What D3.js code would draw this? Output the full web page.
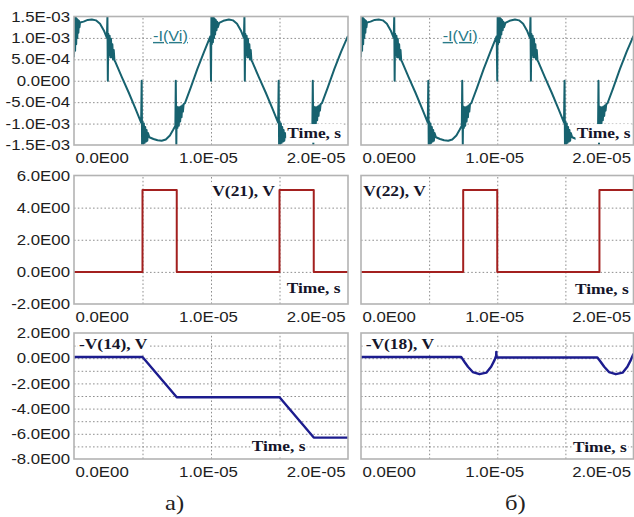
<!DOCTYPE html>
<html><head><meta charset="utf-8">
<script src="https://cdn.jsdelivr.net/npm/d3@7"></script>
<style>body{margin:0;background:#fff}svg{display:block}</style></head>
<body>
<svg id="c" width="634" height="517"></svg>
<script>
// ---- axis ticks / labels ----
const timeTicks = [0, 10, 20];                 // µs
const timeTickLabels = ["0.0E00", "1.0E-05", "2.0E-05"];
const timeGrid = [5, 10, 15];

const currentTicks = [1.5, 1.0, 0.5, 0, -0.5, -1.0, -1.5];   // mA
const currentTickLabels = ["1.5E-03", "1.0E-03", "5.0E-04", "0.0E00", "-5.0E-04", "-1.0E-03", "-1.5E-03"];
const currentGrid = [1.0, 0.5, 0, -0.5, -1.0];

const gateTicks = [6, 4, 2, 0, -2];
const gateTickLabels = ["6.0E00", "4.0E00", "2.0E00", "0.0E00", "-2.0E00"];
const gateGrid = [4, 2, 0];

const outTicks = [2, 0, -2, -4, -6, -8];
const outTickLabels = ["2.0E00", "0.0E00", "-2.0E00", "-4.0E00", "-6.0E00", "-8.0E00"];
const outGrid = [1, 0, -1, -2, -3, -4, -5, -6, -7];

// ---- series: [time µs, value] ----
const currentIVi = [
 [0.00,0.55],[0.04,1.50],[0.08,0.70],[0.12,1.48],[0.16,0.85],[0.20,1.45],[0.24,1.00],[0.28,1.42],[0.32,1.12],[0.36,1.40],[0.40,1.25],[0.44,1.36],
 [0.70,1.38],[1.00,1.42],[1.30,1.43],[1.60,1.41],[1.90,1.33],[2.20,1.16],[2.40,1.00],
 [2.44,1.50],[2.47,0.00],[2.50,1.10],[2.55,0.60],[2.60,1.05],[2.65,0.55],[2.70,0.98],[2.75,0.55],[2.80,0.85],[2.85,0.50],[2.90,0.72],[2.95,0.48],
 [3.00,0.45],[3.50,0.08],[4.00,-0.28],[4.50,-0.66],[4.90,-0.98],
 [4.94,0.00],[4.97,-1.50],[5.00,-0.95],[5.05,-1.48],[5.10,-1.00],[5.15,-1.45],[5.20,-1.08],[5.25,-1.42],[5.30,-1.15],[5.35,-1.40],[5.40,-1.22],
 [5.50,-1.32],[5.80,-1.36],[6.10,-1.39],[6.40,-1.40],[6.70,-1.37],[7.00,-1.28],[7.25,-1.14],[7.40,-1.05],
 [7.43,0.00],[7.47,-1.50],[7.50,-0.60],[7.55,-1.10],[7.60,-0.62],[7.65,-1.05],[7.70,-0.62],[7.75,-0.95],[7.80,-0.60],[7.85,-0.85],[7.90,-0.58],[7.95,-0.72],[8.00,-0.55],
 [8.10,-0.52],[8.50,-0.18],[9.00,0.27],[9.50,0.68],[9.96,1.04],
 [10.00,0.00],[10.03,1.50],[10.06,0.85],[10.10,1.50],[10.14,0.90],[10.18,1.48],[10.22,1.00],[10.26,1.45],[10.30,1.08],[10.35,1.42],[10.40,1.18],[10.45,1.38],[10.50,1.25],
 [10.60,1.35],[10.90,1.40],[11.30,1.43],[11.60,1.41],[11.90,1.33],[12.20,1.16],[12.40,1.00],
 [12.44,1.50],[12.47,0.00],[12.50,1.10],[12.55,0.60],[12.60,1.05],[12.65,0.55],[12.70,0.98],[12.75,0.55],[12.80,0.85],[12.85,0.50],[12.90,0.72],[12.95,0.48],
 [13.00,0.45],[13.50,0.08],[14.00,-0.28],[14.50,-0.66],[14.90,-0.98],
 [14.94,0.00],[14.97,-1.50],[15.00,-0.95],[15.05,-1.48],[15.10,-1.00],[15.15,-1.45],[15.20,-1.08],[15.25,-1.42],[15.30,-1.15],[15.35,-1.40],[15.40,-1.22],
 [15.50,-1.32],[15.80,-1.36],[16.10,-1.39],[16.40,-1.40],[16.70,-1.37],[17.00,-1.28],[17.25,-1.14],[17.40,-1.05],
 [17.43,0.00],[17.47,-1.50],[17.50,-0.60],[17.55,-1.05],[17.60,-0.62],[17.65,-1.00],[17.70,-0.62],[17.75,-0.92],[17.80,-0.60],[17.85,-0.82],[17.90,-0.58],[17.95,-0.70],[18.00,-0.55],
 [18.10,-0.52],[18.50,-0.18],[19.00,0.27],[19.50,0.68],[20.00,1.05]
];

const gateV21 = [[0,0],[5,0],[5,5.1],[7.5,5.1],[7.5,0],[15,0],[15,5.1],[17.5,5.1],[17.5,0],[20,0]];
const gateV22 = [[0,0],[7.5,0],[7.5,5.1],[10,5.1],[10,0],[17.5,0],[17.5,5.1],[20,5.1]];

const outV14 = [[0,0.1],[5,0.1],[7.5,-3.1],[15,-3.1],[17.5,-6.3],[20,-6.3]];
const outV18 = [[0,0.1],[7.35,0.1],[7.6,-0.3],[7.85,-0.68],[8.2,-1.1],[8.7,-1.27],[9.2,-1.15],[9.55,-0.68],[9.8,-0.15],[9.92,0.2],[9.93,0.5],[9.95,0.05],
 [17.35,0.05],[17.6,-0.3],[17.85,-0.68],[18.2,-1.1],[18.7,-1.27],[19.2,-1.15],[19.55,-0.68],[19.8,-0.15],[20,0.35]];

// ---- layout ----
const svg = d3.select("#c");
const SX = 1.16;
const cols = [{x0:74, x1:348}, {x0:361, x1:633.5}];
const rows = [{y0:16.5, y1:145}, {y0:175.5, y1:304}, {y0:333, y1:459}];
const TEAL = "#17626f", RED = "#a3201f", BLUE = "#1c1c8e";
const LABEL_COL = "#15152a";
const TICK_COL = "#1e1e1e";

let clipId = 0;
function label(g, txt, x, y, opts) {
  const grp = g.append("g").attr("transform", `translate(${x},${y}) scale(${SX},1)`);
  const bg = grp.append("rect").attr("fill", "#fff");
  const t = grp.append("text").text(txt)
    .attr("font-family", opts.family).attr("font-size", opts.size)
    .attr("font-weight", opts.weight || "normal").attr("fill", opts.color);
  if (opts.underline) t.attr("text-decoration", "underline");
  const b = t.node().getBBox();
  bg.attr("x", b.x - 1).attr("y", b.y - 1).attr("width", b.width + 2).attr("height", b.height + 2);
}

function panel(ci, ri, yDomain, yTicks, yLabels, yGrid, data, color, lw, showY, texts) {
  const c = cols[ci], r = rows[ri];
  const x = d3.scaleLinear().domain([0, 20]).range([c.x0, c.x1]);
  const y = d3.scaleLinear().domain(yDomain).range([r.y1, r.y0]);
  const g = svg.append("g");
  const W = c.x1 - c.x0, H = r.y1 - r.y0;

  // grid
  const gx = g.append("g").attr("transform", `translate(0,${r.y1})`)
    .call(d3.axisBottom(x).tickValues(timeGrid).tickSize(-H).tickFormat(""));
  const gy = g.append("g").attr("transform", `translate(${c.x0},0)`)
    .call(d3.axisLeft(y).tickValues(yGrid).tickSize(-W).tickFormat(""));
  [gx, gy].forEach(a => {
    a.select(".domain").remove();
    a.selectAll("line").attr("stroke", "#8f8f8f").attr("stroke-width", 1).attr("stroke-dasharray", "1.6,2.2");
  });

  // series
  const id = "clip" + (clipId++);
  g.append("clipPath").attr("id", id).append("rect").attr("x", c.x0).attr("y", r.y0).attr("width", W).attr("height", H);
  g.append("path").datum(data).attr("clip-path", `url(#${id})`)
    .attr("fill", "none").attr("stroke", color).attr("stroke-width", lw).attr("stroke-linejoin", "round")
    .attr("d", d3.line().x(d => x(d[0])).y(d => y(d[1])));

  // in-plot labels
  texts.forEach(tt => label(g, tt.t, tt.x, tt.y, tt));

  // frame
  g.append("rect").attr("x", c.x0).attr("y", r.y0).attr("width", W).attr("height", H)
    .attr("fill", "none").attr("stroke", "#b3b3b3").attr("stroke-width", 1.6);

  // y tick labels
  if (showY) {
    const ay = g.append("g").attr("transform", `translate(${c.x0},0)`)
      .call(d3.axisLeft(y).tickValues(yTicks).tickFormat((d, i) => yLabels[i]).tickSize(0).tickPadding(0));
    ay.select(".domain").remove();
    ay.selectAll("text").attr("x", -4 / SX).attr("transform", `scale(${SX},1)`)
      .attr("font-family", "Liberation Sans, Arial, sans-serif").attr("font-size", 14.5).attr("fill", TICK_COL);
  }
  // x tick labels
  const ax = g.append("g").attr("transform", `translate(0,${r.y1})`)
    .call(d3.axisBottom(x).tickValues(timeTicks).tickFormat((d, i) => timeTickLabels[i]).tickSize(0).tickPadding(0));
  ax.select(".domain").remove();
  const anchors = ["start", "middle", "end"], offs = [1, -3, -3];
  ax.selectAll("text")
    .attr("text-anchor", (d, i) => anchors[i]).attr("x", (d, i) => offs[i] / SX)
    .attr("y", 18.5).attr("dy", 0).attr("transform", `scale(${SX},1)`)
    .attr("font-family", "Liberation Sans, Arial, sans-serif").attr("font-size", 14.5).attr("fill", TICK_COL);
}

const serif = {family: "Liberation Serif, Times New Roman, serif", size: 15, weight: "bold", color: LABEL_COL};
const iLab = {family: "Liberation Sans, Arial, sans-serif", size: 14, color: "#2a7a88", underline: true};

panel(0, 0, [-1.5, 1.5], currentTicks, currentTickLabels, currentGrid, currentIVi, TEAL, 2, true,
  [Object.assign({t: "-I(Vi)", x: 153, y: 41}, iLab), Object.assign({t: "Time, s", x: 287.3, y: 138}, serif)]);
panel(1, 0, [-1.5, 1.5], currentTicks, currentTickLabels, currentGrid, currentIVi, TEAL, 2, false,
  [Object.assign({t: "-I(Vi)", x: 442.7, y: 41}, iLab), Object.assign({t: "Time, s", x: 576.7, y: 138}, serif)]);

panel(0, 1, [-2, 6], gateTicks, gateTickLabels, gateGrid, gateV21, RED, 2, true,
  [Object.assign({t: "V(21), V", x: 212.3, y: 196}, serif), Object.assign({t: "Time, s", x: 286.7, y: 293}, serif)]);
panel(1, 1, [-2, 6], gateTicks, gateTickLabels, gateGrid, gateV22, RED, 2, false,
  [Object.assign({t: "V(22), V", x: 363.3, y: 196}, serif), Object.assign({t: "Time, s", x: 575, y: 294}, serif)]);

panel(0, 2, [-8, 2], outTicks, outTickLabels, outGrid, outV14, BLUE, 2.4, true,
  [Object.assign({t: "-V(14), V", x: 79, y: 348.5}, serif), Object.assign({t: "Time, s", x: 251.7, y: 451}, serif)]);
panel(1, 2, [-8, 2], outTicks, outTickLabels, outGrid, outV18, BLUE, 2.4, false,
  [Object.assign({t: "-V(18), V", x: 365.7, y: 348.5}, serif), Object.assign({t: "Time, s", x: 573, y: 451.5}, serif)]);

// captions
[["а)", 165], ["б)", 505]].forEach(([t, x]) => {
  svg.append("text").text(t).attr("transform", `translate(${x},510) scale(1.12,1)`)
    .attr("font-family", "Liberation Serif, Times New Roman, serif").attr("font-size", 22).attr("fill", "#222");
});
</script>
</body></html>
